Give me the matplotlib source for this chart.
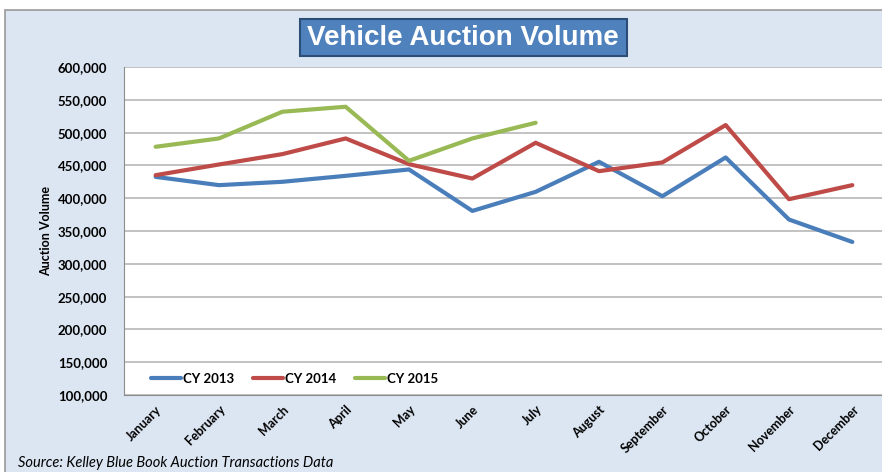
import numpy as np
import matplotlib.pyplot as plt
from matplotlib.patches import Rectangle

# month labels and auction volumes
months = ['January', 'February', 'March', 'April', 'May', 'June', 'July',
          'August', 'September', 'October', 'November', 'December']
cy2013 = [432500, 419900, 425000, 434100, 443800, 380600, 409700,
          455500, 403000, 462100, 367500, 333300]
cy2014 = [435100, 451400, 467200, 491100, 451900, 430000, 484500,
          441200, 454500, 511500, 398500, 419900]
cy2015 = [478400, 491100, 531800, 539400, 457000, 491100, 515000]

bg = '#DCE6F2'
fig = plt.figure(figsize=(8.82, 4.72), dpi=100)
fig.patch.set_facecolor('white')

# outer chart area with gray border
fig.patches.append(Rectangle((5 / 882, -0.1), 1.0, 1 - 10 / 472 + 0.1,
                             transform=fig.transFigure, facecolor=bg,
                             edgecolor='#9A9A9A', linewidth=1.2, zorder=-5))

# plot area (runs past the right edge like the original)
ax = fig.add_axes([124 / 882, 1 - 395 / 472, 760 / 882, 328 / 472])
ax.set_zorder(1)
ax.set_facecolor('white')

x = np.arange(len(months))
ax.plot(x, cy2013, color='#4A7EBB', lw=3, label='CY 2013', solid_capstyle='round')
ax.plot(x, cy2014, color='#BE4B48', lw=3, label='CY 2014', solid_capstyle='round')
ax.plot(x[:len(cy2015)], cy2015, color='#98B954', lw=3, label='CY 2015',
        solid_capstyle='round')

ax.set_xlim(-0.5, 11.5)
ax.set_ylim(100000, 600000)
ax.set_yticks(np.arange(100000, 600001, 50000))
ax.set_yticklabels([f'{v:,}' for v in range(100000, 600001, 50000)],
                   fontsize=9.5, fontweight='bold', family='Lato')
ax.yaxis.grid(True, color='#BDBDBD', lw=1.3)
ax.set_axisbelow(True)
ax.tick_params(axis='y', length=0, pad=12)
ax.tick_params(axis='x', length=0, pad=6)
ax.set_xticks(x)
ax.set_xticklabels(months, rotation=45, ha='right', rotation_mode='anchor',
                   fontsize=9, fontweight='bold', family='Lato')
for s in ['top', 'right']:
    ax.spines[s].set_visible(False)
ax.spines['left'].set_color('#8C8C8C')
ax.spines['bottom'].set_color('#8C8C8C')
ax.set_ylabel('Auction Volume', fontsize=9, fontweight='bold', family='Lato',
              labelpad=4)

ax.legend(loc='lower left', bbox_to_anchor=(0.02, -0.005), ncol=3,
          frameon=False, handlelength=2.3, handletextpad=0.15,
          columnspacing=1.4, prop={'family': 'Lato', 'weight': 'bold', 'size': 9.5})

# title box
fig.patches.append(Rectangle((300 / 882, 1 - 56 / 472), 327 / 882, 37 / 472,
                             transform=fig.transFigure, facecolor='#4F81BD',
                             edgecolor='#2C4D75', linewidth=1.5, zorder=2))
fig.text(463 / 882, 1 - 38 / 472, 'Vehicle Auction Volume', ha='center',
         va='center', color='white', fontsize=20, fontweight='bold',
         family='Liberation Sans', zorder=3)

fig.text(18 / 882, 1 - 463 / 472, 'Source: Kelley Blue Book Auction Transactions Data',
         fontsize=10.5, style='italic', family='Lato', va='center')

fig.savefig('out.png', dpi=100, facecolor=fig.get_facecolor())
